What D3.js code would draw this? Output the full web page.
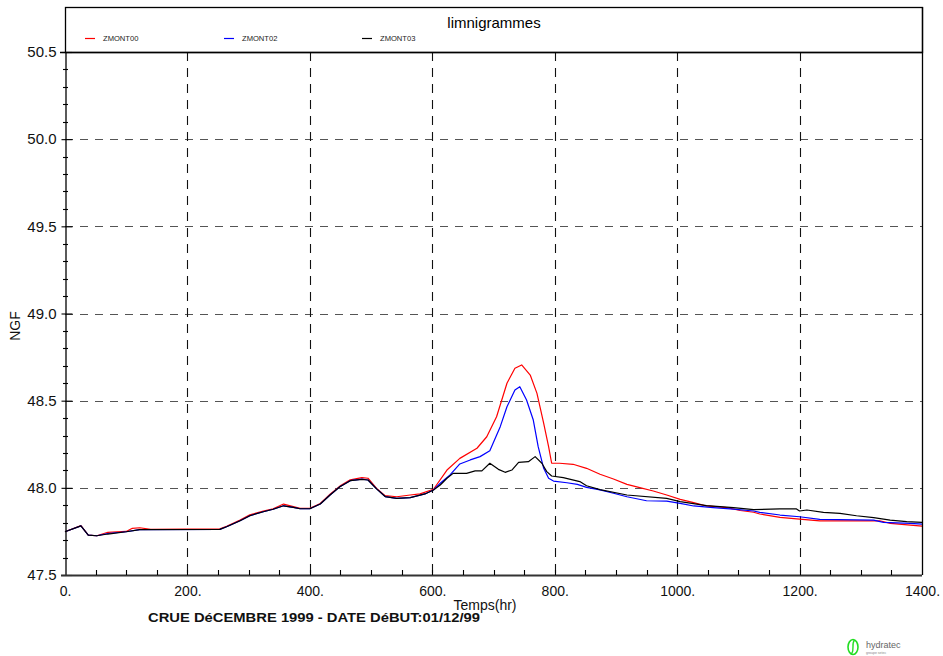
<!DOCTYPE html>
<html>
<head>
<meta charset="utf-8">
<script src="https://cdn.jsdelivr.net/npm/d3@7"></script>
<style>
  html, body { margin: 0; padding: 0; background: #fff; }
  svg { display: block; font-family: "Liberation Sans", Arial, sans-serif; }
</style>
</head>
<body>
<svg id="chart" width="943" height="656"></svg>
<script>
// Water levels (m NGF) over time (hours) for three gauging points
const seriesNames = ["ZMONT00", "ZMONT02", "ZMONT03"];
const seriesColors = ["#ff0000", "#0000ff", "#000000"];

const hoursZ00 = [0, 26, 38, 52, 70, 100, 110, 122, 140, 253, 264, 286, 302, 324, 340, 357, 373, 384, 400, 417, 433, 449, 466, 485, 495, 509, 523, 542, 564, 580, 602, 624, 645, 673, 689, 705, 722, 735, 746, 760, 771, 782, 790, 795, 808, 830, 852, 874, 896, 918, 939, 961, 983, 1005, 1027, 1048, 1081, 1103, 1125, 1135, 1168, 1200, 1233, 1331, 1348, 1400];
const levelZ00 = [47.748, 47.783, 47.729, 47.725, 47.745, 47.750, 47.768, 47.771, 47.762, 47.765, 47.780, 47.815, 47.845, 47.866, 47.880, 47.907, 47.892, 47.882, 47.882, 47.910, 47.963, 48.010, 48.046, 48.059, 48.055, 47.997, 47.955, 47.949, 47.959, 47.965, 47.992, 48.102, 48.169, 48.227, 48.293, 48.408, 48.600, 48.686, 48.705, 48.647, 48.542, 48.370, 48.236, 48.141, 48.141, 48.135, 48.112, 48.078, 48.051, 48.020, 48.001, 47.982, 47.959, 47.934, 47.915, 47.896, 47.886, 47.870, 47.860, 47.850, 47.831, 47.821, 47.811, 47.811, 47.796, 47.780];

const hoursZ02 = [0, 26, 38, 52, 70, 100, 122, 253, 264, 286, 302, 324, 340, 357, 373, 384, 400, 417, 433, 449, 466, 485, 495, 509, 523, 542, 564, 588, 602, 613, 629, 645, 662, 678, 694, 711, 722, 735, 743, 754, 765, 773, 782, 790, 798, 820, 837, 852, 874, 896, 918, 950, 983, 1005, 1027, 1059, 1092, 1125, 1135, 1168, 1200, 1233, 1321, 1337, 1381, 1400];
const levelZ02 = [47.748, 47.782, 47.729, 47.725, 47.738, 47.748, 47.760, 47.762, 47.777, 47.811, 47.840, 47.863, 47.877, 47.897, 47.888, 47.880, 47.880, 47.907, 47.959, 48.006, 48.041, 48.050, 48.045, 47.994, 47.950, 47.940, 47.944, 47.965, 47.988, 48.026, 48.074, 48.137, 48.160, 48.179, 48.213, 48.351, 48.465, 48.561, 48.580, 48.504, 48.389, 48.236, 48.112, 48.055, 48.039, 48.029, 48.020, 48.003, 47.988, 47.969, 47.949, 47.926, 47.924, 47.911, 47.896, 47.886, 47.878, 47.867, 47.859, 47.844, 47.834, 47.819, 47.815, 47.802, 47.796, 47.792];

const hoursZ03 = [0, 26, 38, 52, 70, 100, 122, 253, 264, 286, 302, 324, 340, 357, 373, 384, 400, 417, 433, 449, 466, 485, 495, 509, 523, 542, 564, 588, 602, 613, 624, 634, 656, 670, 681, 694, 708, 719, 730, 741, 757, 768, 779, 787, 795, 814, 841, 852, 874, 918, 983, 1005, 1048, 1092, 1125, 1168, 1195, 1200, 1212, 1239, 1266, 1293, 1321, 1348, 1375, 1400];
const levelZ03 = [47.748, 47.782, 47.729, 47.725, 47.735, 47.748, 47.760, 47.762, 47.777, 47.811, 47.840, 47.863, 47.877, 47.897, 47.888, 47.880, 47.880, 47.907, 47.959, 48.006, 48.041, 48.048, 48.045, 47.994, 47.950, 47.940, 47.944, 47.965, 47.988, 48.016, 48.055, 48.083, 48.083, 48.097, 48.097, 48.141, 48.106, 48.089, 48.102, 48.146, 48.150, 48.179, 48.141, 48.093, 48.068, 48.059, 48.036, 48.012, 47.990, 47.959, 47.940, 47.921, 47.898, 47.886, 47.875, 47.879, 47.879, 47.867, 47.873, 47.859, 47.854, 47.840, 47.829, 47.815, 47.806, 47.802];

const xTickValues = [0, 200, 400, 600, 800, 1000, 1200, 1400];
const xTickLabels = ["0.", "200.", "400.", "600.", "800.", "1000.", "1200.", "1400."];
const yTickValues = [47.5, 48.0, 48.5, 49.0, 49.5, 50.0, 50.5];
const yTickLabels = ["47.5", "48.0", "48.5", "49.0", "49.5", "50.0", "50.5"];

const chartTitle = "limnigrammes";
const xTitle = "Temps(hr)";
const yTitle = "NGF";
const caption = "CRUE DéCEMBRE 1999 - DATE DéBUT:01/12/99";

// ---- layout ----
const svg = d3.select("#chart");
const plotLeft = 65, plotRight = 922, plotTop = 52, plotBottom = 575, headerTop = 7;

const x = d3.scaleLinear().domain([0, 1400]).range([plotLeft, plotRight]);
const y = d3.scaleLinear().domain([47.5, 50.5]).range([plotBottom, plotTop]);

// header box with title and legend
svg.append("rect")
  .attr("x", plotLeft + 0.5).attr("y", headerTop + 0.5)
  .attr("width", plotRight - plotLeft).attr("height", plotTop - headerTop)
  .attr("fill", "none").attr("stroke", "#000").attr("stroke-width", 1.3);

svg.append("text")
  .attr("x", 494).attr("y", 28)
  .attr("text-anchor", "middle")
  .attr("font-size", 15)
  .text(chartTitle);

const legendX = [85, 224, 362];
seriesNames.forEach((name, i) => {
  const g = svg.append("g").attr("transform", `translate(${legendX[i]},38.5)`);
  g.append("line").attr("x1", 0).attr("x2", 10).attr("y1", 0).attr("y2", 0)
    .attr("stroke", seriesColors[i]).attr("stroke-width", 1.2);
  g.append("text").attr("x", 18).attr("y", 2.8)
    .attr("font-size", 7.6).attr("fill", "#222").text(name);
});

// grid
const grid = svg.append("g");
grid.selectAll("line.h")
  .data(yTickValues.filter(v => v > 47.5 && v < 50.5))
  .join("line").attr("class", "h")
  .attr("x1", plotLeft).attr("x2", plotRight)
  .attr("y1", d => Math.round(y(d)) + 0.5).attr("y2", d => Math.round(y(d)) + 0.5)
  .attr("stroke", "#555").attr("stroke-width", 1.2)
  .attr("stroke-dasharray", "8,7");
grid.selectAll("line.v")
  .data(xTickValues.filter(v => v > 0 && v < 1400))
  .join("line").attr("class", "v")
  .attr("x1", d => Math.round(x(d)) + 0.5).attr("x2", d => Math.round(x(d)) + 0.5)
  .attr("y1", plotTop).attr("y2", plotBottom)
  .attr("stroke", "#111").attr("stroke-width", 1.1)
  .attr("stroke-dasharray", "9,7");

// series
const line = d3.line().x(d => x(d[0])).y(d => y(d[1]));
const allSeries = [
  d3.zip(hoursZ00, levelZ00),
  d3.zip(hoursZ02, levelZ02),
  d3.zip(hoursZ03, levelZ03)
];
allSeries.forEach((pts, i) => {
  svg.append("path")
    .datum(pts)
    .attr("d", line)
    .attr("fill", "none")
    .attr("stroke", seriesColors[i])
    .attr("stroke-width", 1.2)
    .attr("stroke-linejoin", "round");
});

// frame: top edge of plot, right edge
svg.append("line").attr("x1", plotLeft - 5).attr("x2", plotRight)
  .attr("y1", plotTop + 0.5).attr("y2", plotTop + 0.5)
  .attr("stroke", "#000").attr("stroke-width", 1.3);
svg.append("line").attr("x1", plotRight + 0.5).attr("x2", plotRight + 0.5)
  .attr("y1", headerTop).attr("y2", plotBottom)
  .attr("stroke", "#000").attr("stroke-width", 1.3);

// left axis with minor ticks every 0.1
const yAxis = d3.axisLeft(y)
  .tickValues(yTickValues)
  .tickFormat((d, i) => yTickLabels[i])
  .tickSizeInner(4).tickSizeOuter(0).tickPadding(5);
const yAxisG = svg.append("g").attr("transform", `translate(${plotLeft + 0.5},0)`).call(yAxis);
yAxisG.select(".domain").attr("stroke", "#000").attr("stroke-width", 1.3);
yAxisG.selectAll(".tick line").attr("x2", -4).attr("x1", 7).attr("stroke-width", 1.1);
yAxisG.selectAll(".tick text").attr("font-size", 15).attr("font-family", "Liberation Sans, Arial, sans-serif").attr("fill", "#111");
const yMinor = d3.range(47.6, 50.5, 0.1).filter(v => Math.abs(v * 2 - Math.round(v * 2)) > 0.01);
svg.append("g").selectAll("line")
  .data(yMinor).join("line")
  .attr("x1", plotLeft - 2).attr("x2", plotLeft + 3)
  .attr("y1", d => Math.round(y(d)) + 0.5).attr("y2", d => Math.round(y(d)) + 0.5)
  .attr("stroke", "#000").attr("stroke-width", 1.1);

// bottom axis with minor ticks every 50 h
const xAxis = d3.axisBottom(x)
  .tickValues(xTickValues)
  .tickFormat((d, i) => xTickLabels[i])
  .tickSizeInner(0).tickSizeOuter(0).tickPadding(11);
const xAxisG = svg.append("g").attr("transform", `translate(0,${plotBottom + 0.5})`).call(xAxis);
xAxisG.select(".domain").attr("stroke", "#333").attr("stroke-width", 2);
xAxisG.select(".domain").attr("d", `M${plotLeft - 4},0H${plotRight}`);
xAxisG.selectAll(".tick text").attr("font-size", 14).attr("font-family", "Liberation Sans, Arial, sans-serif").attr("fill", "#111");
const xMinor = d3.range(50, 1400, 50);
svg.append("g").selectAll("line")
  .data(xMinor).join("line")
  .attr("x1", d => Math.round(x(d)) + 0.5).attr("x2", d => Math.round(x(d)) + 0.5)
  .attr("y1", plotBottom - 5).attr("y2", plotBottom)
  .attr("stroke", "#000").attr("stroke-width", 1.1);

// titles
svg.append("text")
  .attr("transform", "translate(20,326) rotate(-90)")
  .attr("text-anchor", "middle").attr("font-size", 14).attr("fill", "#111")
  .text(yTitle);
svg.append("text")
  .attr("x", 485).attr("y", 610)
  .attr("text-anchor", "middle").attr("font-size", 14).attr("fill", "#111")
  .text(xTitle);
svg.append("text")
  .attr("x", 148).attr("y", 622)
  .attr("font-size", 13.5).attr("font-weight", "bold").attr("fill", "#111")
  .attr("textLength", 332).attr("lengthAdjust", "spacingAndGlyphs")
  .text(caption);

// company mark
const logo = svg.append("g").attr("transform", "translate(853,647)");
logo.append("ellipse").attr("rx", 5).attr("ry", 7.5)
  .attr("fill", "none").attr("stroke", "#22dd22").attr("stroke-width", 1.6);
logo.append("path").attr("d", "M1.5,-7 C-2,-3 2,2 -1.5,7")
  .attr("fill", "none").attr("stroke", "#22dd22").attr("stroke-width", 1.4);
svg.append("text").attr("x", 866).attr("y", 648)
  .attr("font-size", 9).attr("fill", "#666").text("hydratec");
svg.append("text").attr("x", 866).attr("y", 654)
  .attr("font-size", 3.5).attr("fill", "#888").text("groupe setec");
</script>
</body>
</html>
